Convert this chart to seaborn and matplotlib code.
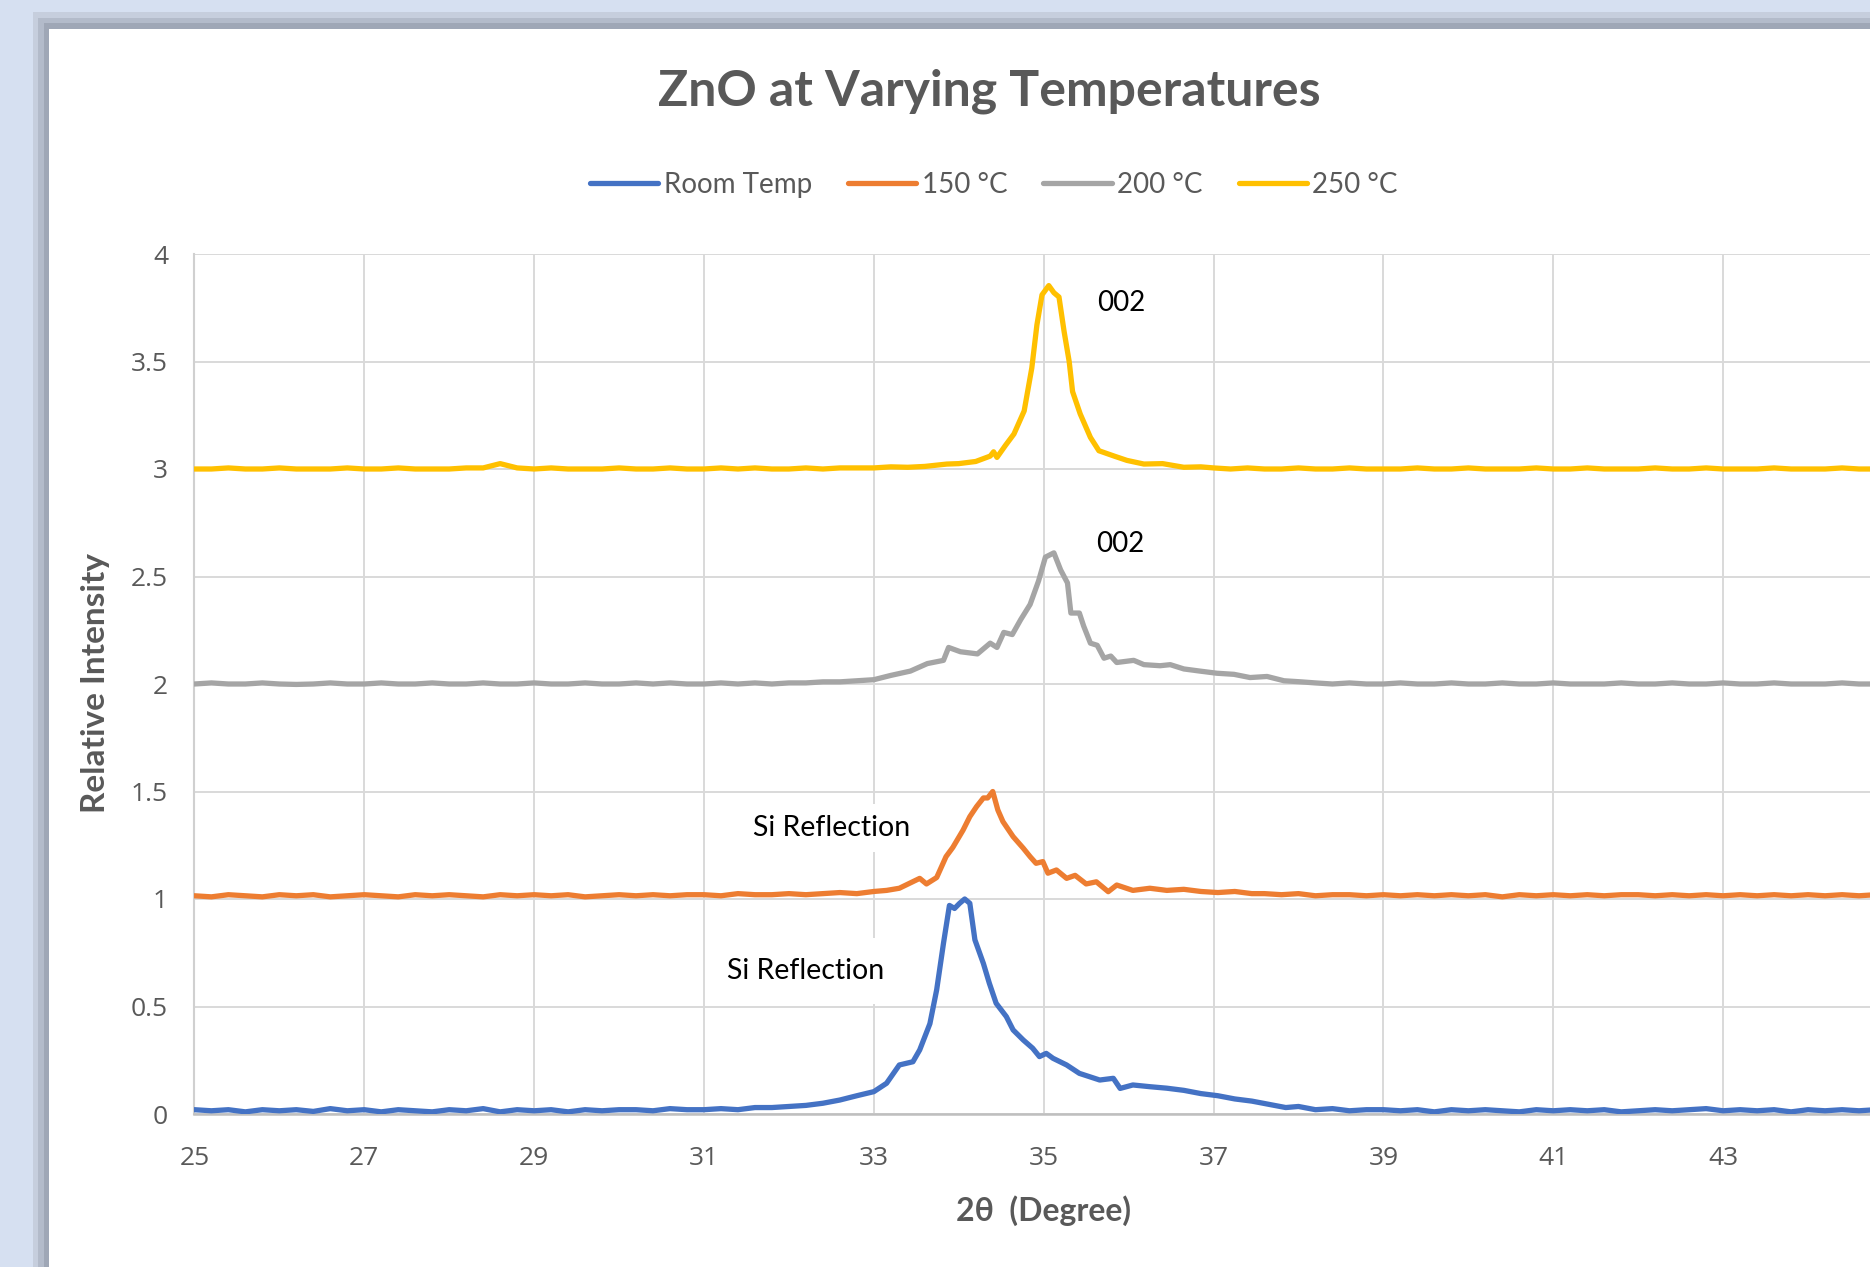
import matplotlib
matplotlib.use("Agg")
import numpy as np
import pandas as pd
import seaborn as sns
import matplotlib.pyplot as plt
from matplotlib.patches import Rectangle

# ---------------- data ----------------
series_labels = ["Room Temp", "150 °C", "200 °C", "250 °C"]
series_colors = ["#4472C4", "#ED7D31", "#A5A5A5", "#FFC000"]

rt_x = [25.0, 25.2, 25.4, 25.6, 25.8, 26.0, 26.2, 26.4, 26.6, 26.8,
        27.0, 27.2, 27.4, 27.6, 27.8, 28.0, 28.2, 28.4, 28.6, 28.8,
        29.0, 29.2, 29.4, 29.6, 29.8, 30.0, 30.2, 30.4, 30.6, 30.8,
        31.0, 31.2, 31.4, 31.6, 31.8, 32.0, 32.2, 32.4, 32.6, 32.8,
        33.0, 33.15, 33.3, 33.46, 33.54, 33.66, 33.74, 33.82, 33.89, 33.95,
        34.01, 34.07, 34.13, 34.19, 34.29, 34.36, 34.44, 34.56, 34.64, 34.76,
        34.87, 34.95, 35.03, 35.11, 35.27, 35.42, 35.66, 35.82, 35.9, 36.05,
        36.25, 36.45, 36.65, 36.85, 37.05, 37.25, 37.45, 37.65, 37.85, 38.0,
        38.2, 38.4, 38.6, 38.8, 39.0, 39.2, 39.4, 39.6, 39.8, 40.0,
        40.2, 40.4, 40.6, 40.8, 41.0, 41.2, 41.4, 41.6, 41.8, 42.0,
        42.2, 42.4, 42.6, 42.8, 43.0, 43.2, 43.4, 43.6, 43.8, 44.0,
        44.2, 44.4, 44.6, 44.8]
rt_y = [0.02, 0.015, 0.02, 0.01, 0.02, 0.015, 0.02, 0.012, 0.025, 0.015,
        0.02, 0.01, 0.02, 0.015, 0.01, 0.02, 0.015, 0.025, 0.01, 0.02,
        0.015, 0.02, 0.01, 0.02, 0.015, 0.02, 0.02, 0.015, 0.025, 0.02,
        0.02, 0.025, 0.02, 0.03, 0.03, 0.035, 0.04, 0.05, 0.065, 0.085,
        0.104, 0.143, 0.228, 0.243, 0.298, 0.42, 0.578, 0.794, 0.97, 0.956,
        0.98, 1.0, 0.98, 0.81, 0.70, 0.608, 0.515, 0.453, 0.391, 0.344,
        0.306, 0.267, 0.282, 0.259, 0.228, 0.189, 0.158, 0.166, 0.119, 0.135,
        0.127, 0.12, 0.11, 0.095, 0.085, 0.07, 0.06, 0.045, 0.03, 0.035,
        0.02, 0.025, 0.015, 0.02, 0.02, 0.015, 0.02, 0.01, 0.02, 0.015,
        0.02, 0.015, 0.01, 0.02, 0.015, 0.02, 0.015, 0.02, 0.01, 0.015,
        0.02, 0.015, 0.02, 0.025, 0.015, 0.02, 0.015, 0.02, 0.01, 0.02,
        0.015, 0.02, 0.015, 0.02]

t150_x = [25.0, 25.2, 25.4, 25.6, 25.8, 26.0, 26.2, 26.4, 26.6, 26.8,
          27.0, 27.2, 27.4, 27.6, 27.8, 28.0, 28.2, 28.4, 28.6, 28.8,
          29.0, 29.2, 29.4, 29.6, 29.8, 30.0, 30.2, 30.4, 30.6, 30.8,
          31.0, 31.2, 31.4, 31.6, 31.8, 32.0, 32.2, 32.4, 32.6, 32.8,
          33.0, 33.15, 33.3, 33.54, 33.62, 33.74, 33.85, 33.93, 34.05, 34.13,
          34.21, 34.29, 34.34, 34.4, 34.46, 34.52, 34.64, 34.76, 34.84, 34.91,
          34.99, 35.05, 35.15, 35.27, 35.37, 35.5, 35.62, 35.76, 35.86, 36.05,
          36.25, 36.45, 36.65, 36.85, 37.05, 37.25, 37.45,
          37.6, 37.8, 38.0, 38.2, 38.4, 38.6, 38.8, 39.0, 39.2, 39.4,
          39.6, 39.8, 40.0, 40.2, 40.4, 40.6, 40.8, 41.0, 41.2, 41.4,
          41.6, 41.8, 42.0, 42.2, 42.4, 42.6, 42.8, 43.0, 43.2, 43.4,
          43.6, 43.8, 44.0, 44.2, 44.4, 44.6, 44.8]
t150_y = [1.015, 1.01, 1.02, 1.015, 1.01, 1.02, 1.015, 1.02, 1.01, 1.015,
          1.02, 1.015, 1.01, 1.02, 1.015, 1.02, 1.015, 1.01, 1.02, 1.015,
          1.02, 1.015, 1.02, 1.01, 1.015, 1.02, 1.015, 1.02, 1.015, 1.02,
          1.02, 1.015, 1.025, 1.02, 1.02, 1.025, 1.02, 1.025, 1.03, 1.025,
          1.035, 1.04, 1.05, 1.096, 1.07, 1.10, 1.197, 1.24, 1.32, 1.383,
          1.43, 1.47, 1.47, 1.50, 1.414, 1.36, 1.29, 1.236, 1.197, 1.166,
          1.174, 1.12, 1.135, 1.096, 1.11, 1.07, 1.08, 1.034, 1.065, 1.04,
          1.05, 1.04, 1.045, 1.035, 1.03, 1.035, 1.025,
          1.025, 1.02, 1.025, 1.015, 1.02, 1.02, 1.015, 1.02, 1.015, 1.02,
          1.015, 1.02, 1.015, 1.02, 1.01, 1.02, 1.015, 1.02, 1.015, 1.02,
          1.015, 1.02, 1.02, 1.015, 1.02, 1.015, 1.02, 1.015, 1.02, 1.015,
          1.02, 1.015, 1.02, 1.015, 1.02, 1.015, 1.02]

t200_x = [25.0, 25.2, 25.4, 25.6, 25.8, 26.0, 26.2, 26.4, 26.6, 26.8,
          27.0, 27.2, 27.4, 27.6, 27.8, 28.0, 28.2, 28.4, 28.6, 28.8,
          29.0, 29.2, 29.4, 29.6, 29.8, 30.0, 30.2, 30.4, 30.6, 30.8,
          31.0, 31.2, 31.4, 31.6, 31.8, 32.0, 32.2, 32.4, 32.6, 32.8,
          33.0, 33.2, 33.43, 33.63, 33.82, 33.88, 34.02, 34.22, 34.37, 34.45,
          34.53, 34.63, 34.73, 34.84, 34.94, 35.02, 35.12, 35.2, 35.28, 35.32,
          35.42, 35.47, 35.55, 35.63, 35.71, 35.79, 35.86, 36.06, 36.18, 36.37,
          36.49, 36.65, 36.84, 37.04, 37.24, 37.43, 37.63, 37.83, 38.03,
          38.2, 38.4, 38.6, 38.8, 39.0, 39.2, 39.4, 39.6, 39.8, 40.0,
          40.2, 40.4, 40.6, 40.8, 41.0, 41.2, 41.4, 41.6, 41.8, 42.0,
          42.2, 42.4, 42.6, 42.8, 43.0, 43.2, 43.4, 43.6, 43.8, 44.0,
          44.2, 44.4, 44.6, 44.8]
t200_y = [2.0, 2.005, 2.0, 2.0, 2.005, 2.0, 1.998, 2.0, 2.005, 2.0,
          2.0, 2.005, 2.0, 2.0, 2.005, 2.0, 2.0, 2.005, 2.0, 2.0,
          2.005, 2.0, 2.0, 2.005, 2.0, 2.0, 2.005, 2.0, 2.005, 2.0,
          2.0, 2.005, 2.0, 2.005, 2.0, 2.005, 2.005, 2.01, 2.01, 2.015,
          2.02, 2.04, 2.06, 2.095, 2.11, 2.17, 2.15, 2.14, 2.19, 2.17,
          2.24, 2.23, 2.30, 2.37, 2.48, 2.59, 2.61, 2.53, 2.47, 2.33,
          2.33, 2.27, 2.19, 2.18, 2.12, 2.13, 2.10, 2.11, 2.09, 2.085,
          2.09, 2.07, 2.06, 2.05, 2.045, 2.03, 2.035, 2.015, 2.01,
          2.005, 2.0, 2.005, 2.0, 2.0, 2.005, 2.0, 2.0, 2.005, 2.0,
          2.0, 2.005, 2.0, 2.0, 2.005, 2.0, 2.0, 2.0, 2.005, 2.0,
          2.0, 2.005, 2.0, 2.0, 2.005, 2.0, 2.0, 2.005, 2.0, 2.0,
          2.0, 2.005, 2.0, 2.0]

t250_x = [25.0, 25.2, 25.4, 25.6, 25.8, 26.0, 26.2, 26.4, 26.6, 26.8,
          27.0, 27.2, 27.4, 27.6, 27.8, 28.0, 28.2, 28.4, 28.6, 28.8,
          29.0, 29.2, 29.4, 29.6, 29.8, 30.0, 30.2, 30.4, 30.6, 30.8,
          31.0, 31.2, 31.4, 31.6, 31.8, 32.0, 32.2, 32.4, 32.6, 32.8,
          33.0, 33.2, 33.4, 33.6,
          33.86, 34.0, 34.2, 34.37, 34.41, 34.45, 34.55, 34.65, 34.77, 34.86,
          34.92, 34.98, 35.06, 35.12, 35.18, 35.24, 35.3, 35.34, 35.43, 35.55,
          35.65, 35.83, 35.98, 36.18, 36.4, 36.65, 36.85,
          37.0, 37.2, 37.4, 37.6, 37.8, 38.0, 38.2, 38.4, 38.6, 38.8,
          39.0, 39.2, 39.4, 39.6, 39.8, 40.0, 40.2, 40.4, 40.6, 40.8,
          41.0, 41.2, 41.4, 41.6, 41.8, 42.0, 42.2, 42.4, 42.6, 42.8,
          43.0, 43.2, 43.4, 43.6, 43.8, 44.0, 44.2, 44.4, 44.6, 44.8]
t250_y = [3.0, 3.0, 3.005, 3.0, 3.0, 3.005, 3.0, 3.0, 3.0, 3.005,
          3.0, 3.0, 3.005, 3.0, 3.0, 3.0, 3.005, 3.005, 3.025, 3.005,
          3.0, 3.005, 3.0, 3.0, 3.0, 3.005, 3.0, 3.0, 3.005, 3.0,
          3.0, 3.005, 3.0, 3.005, 3.0, 3.0, 3.005, 3.0, 3.005, 3.005,
          3.005, 3.01, 3.008, 3.012,
          3.023, 3.025, 3.035, 3.06, 3.08, 3.054, 3.11, 3.163, 3.27, 3.47,
          3.67, 3.81, 3.853, 3.82, 3.80, 3.64, 3.50, 3.36, 3.256, 3.147,
          3.085, 3.06, 3.04, 3.023, 3.025, 3.008, 3.01,
          3.005, 3.0, 3.005, 3.0, 3.0, 3.005, 3.0, 3.0, 3.005, 3.0,
          3.0, 3.0, 3.005, 3.0, 3.0, 3.005, 3.0, 3.0, 3.0, 3.005,
          3.0, 3.0, 3.005, 3.0, 3.0, 3.0, 3.005, 3.0, 3.0, 3.005,
          3.0, 3.0, 3.0, 3.005, 3.0, 3.0, 3.0, 3.005, 3.0, 3.0]

x_ticks = [25, 27, 29, 31, 33, 35, 37, 39, 41, 43]
y_ticks = [0, 0.5, 1, 1.5, 2, 2.5, 3, 3.5, 4]
y_tick_labels = ["0", "0.5", "1", "1.5", "2", "2.5", "3", "3.5", "4"]

# ---------------- build long table ----------------
frames = []
for lab, xs, ys in zip(series_labels, [rt_x, t150_x, t200_x, t250_x],
                       [rt_y, t150_y, t200_y, t250_y]):
    frames.append(pd.DataFrame({"two_theta": xs, "intensity": ys, "series": lab}))
df = pd.concat(frames, ignore_index=True)

# ---------------- style ----------------
sns.set_theme(style="white")
plt.rcParams["font.family"] = ["Lato", "DejaVu Sans"]

W, H = 1870, 1267
fig = plt.figure(figsize=(W / 100, H / 100), dpi=100, facecolor="#D6E0F1")

# window frame / shadow and white chart area
for x0, y0, c in [(33, 12, "#C6CEDD"), (38, 18, "#B3BBCA"), (44, 23, "#9FA7B6"), (49, 29, "white")]:
    fig.add_artist(Rectangle((x0 / W, 0), 1.2, (H - y0) / H, transform=fig.transFigure,
                             facecolor=c, edgecolor="none", zorder=-10))

left_px, right_px = 194.4, 1893.0
bottom_px, top_px = 1114.0, 254.0
ax = fig.add_axes([left_px / W, (H - bottom_px) / H, (right_px - left_px) / W, (bottom_px - top_px) / H])
ax.set_facecolor("white")

sns.lineplot(data=df, x="two_theta", y="intensity", hue="series", hue_order=series_labels,
             palette=series_colors, estimator=None, sort=False, linewidth=3.8,
             legend=False, ax=ax, zorder=3)
for ln in ax.lines:
    ln.set_solid_joinstyle("round")
    ln.set_solid_capstyle("round")

ax.set_xlim(25, 45)
ax.set_ylim(0, 4)
ax.set_xticks(x_ticks)
ax.set_yticks(y_ticks)
ax.set_yticklabels(y_tick_labels)
ax.set_xlabel("")
ax.set_ylabel("")
ax.grid(True, color="#D9D9D9", linewidth=1.4)
ax.axvline(45, color="#D9D9D9", linewidth=1.4, zorder=0.5)
ax.set_axisbelow(True)
for s in ["top", "right"]:
    ax.spines[s].set_visible(False)
ax.spines["left"].set_color("#D0D0D0")
ax.spines["left"].set_linewidth(1.5)
ax.spines["bottom"].set_color("#BFBFBF")
ax.spines["bottom"].set_linewidth(1.8)
ax.tick_params(axis="both", length=0, labelcolor="#595959", labelsize=19)
ax.tick_params(axis="x", pad=23)
ax.tick_params(axis="y", pad=19)
for t in ax.get_xticklabels() + ax.get_yticklabels():
    t.set_fontfamily(["Open Sans", "DejaVu Sans"])

# annotations
ax.text(35.91, 3.772, "002", ha="center", va="center", fontsize=20, color="black", zorder=2.5)
ax.text(35.90, 2.65, "002", ha="center", va="center", fontsize=20, color="black", zorder=2.5)
ax.text(32.50, 1.33, "Si Reflection", ha="center", va="center", fontsize=20.5, color="black", zorder=2.5,
        bbox=dict(boxstyle="square,pad=0.4", facecolor="white", edgecolor="none"))
ax.text(32.20, 0.665, "Si Reflection", ha="center", va="center", fontsize=20.5, color="black", zorder=2.5,
        bbox=dict(boxstyle="square,pad=0.7", facecolor="white", edgecolor="none"))

# title, axis titles, legend
fig.text(989 / W, 1 - 91.5 / H, "ZnO at Varying Temperatures", ha="center", va="center",
         fontsize=36, fontweight="bold", color="#595959")
fig.text(95.4 / W, 584 / H, "Relative Intensity", rotation=90, ha="center", va="center",
         fontsize=24, fontweight="bold", color="#595959")
fig.text(1043.5 / W, 56.5 / H, "2θ  (Degree)", ha="center", va="center",
         fontsize=23, fontweight="bold", color="#595959")

fig.legend(handles=ax.lines[:4], labels=series_labels, loc="center",
           bbox_to_anchor=(994 / W, 1 - 185 / H), ncol=4, frameon=False,
           fontsize=20, handlelength=2.45, handletextpad=0.2, columnspacing=1.3,
           labelcolor="#595959")

fig.savefig("out.png", dpi=100, facecolor=fig.get_facecolor())
